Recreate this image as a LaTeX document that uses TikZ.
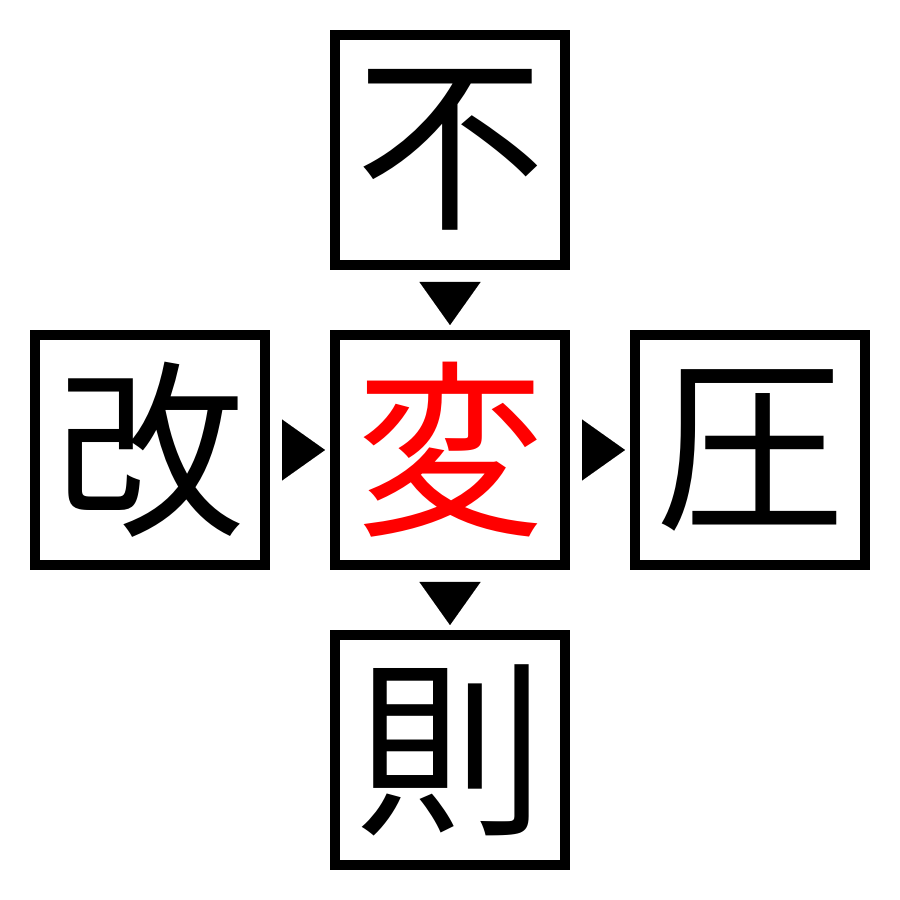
\documentclass[tikz,border=0pt]{standalone}
\usepackage{fontspec}
\usetikzlibrary{arrows.meta}
\newfontfamily\cjk{Noto Sans CJK JP}
\tikzset{
  kanji/.style={draw, line width=0.1cm, minimum size=2.3cm, inner sep=0pt, font=\cjk\fontsize{54}{54}\selectfont},
  link/.style={-{Triangle[length=0.43cm, width=0.61cm]}, line width=0.01pt, shorten <=0.21cm, shorten >=0.05cm}
}
\begin{document}
\begin{tikzpicture}
\useasboundingbox (0,0) rectangle (9,9);
\node[kanji] (top) at (4.5,7.5) {不};
\node[kanji] (left) at (1.5,4.5) {改};
\node[kanji, text=red] (mid) at (4.5,4.5) {変};
\node[kanji] (right) at (7.5,4.5) {圧};
\node[kanji] (bottom) at (4.5,1.5) {則};
% triangles between the boxes
\draw[link] (top) -- (mid);
\draw[link] (left) -- (mid);
\draw[link] (mid) -- (right);
\draw[link] (mid) -- (bottom);
\end{tikzpicture}
\end{document}
